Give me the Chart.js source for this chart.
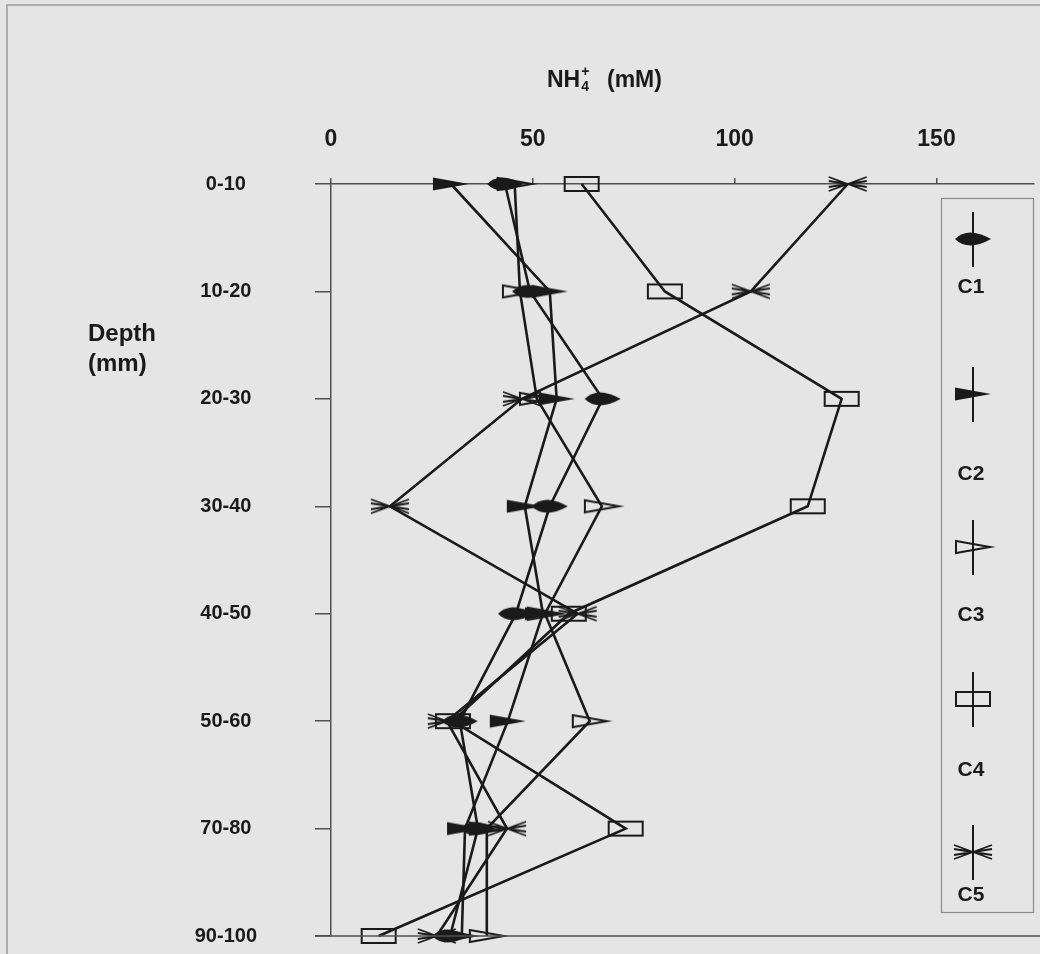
<!DOCTYPE html>
<html>
<head>
<meta charset="utf-8">
<script src="https://cdn.jsdelivr.net/npm/chart.js@4.4.1/dist/chart.umd.min.js"></script>
<style>
  html, body { margin: 0; padding: 0; background: #e5e5e5; }
  #c { display: block; }
</style>
</head>
<body>
<canvas id="c" width="1040" height="954"></canvas>
<script>
// Depth intervals (rows, top to bottom) and NH4+ concentrations (mM) per core
const depthLabels = ['0-10', '10-20', '20-30', '30-40', '40-50', '50-60', '70-80', '90-100'];
const coreNames = ['C1', 'C2', 'C3', 'C4', 'C5'];
const c1 = [43.1, 49.3, 67.3, 54.2, 45.8, 31.9, 36.4, 29.5];
const c2 = [29.7, 54.2, 55.9, 48.0, 52.5, 43.8, 33.2, 32.4];
const c3 = [45.5, 46.8, 51.0, 67.1, 53.0, 64.1, 38.6, 38.6];
const c4 = [62.1, 82.7, 126.5, 118.1, 58.9, 30.2, 73.0, 11.8];
const c5 = [128.0, 104.0, 47.3, 14.6, 61.1, 28.7, 43.6, 26.2];
const xTicks = [0, 50, 100, 150];

const FONT = '"Liberation Sans", Arial, Helvetica, sans-serif';
const INK = '#1a1a1a';
const AXIS = '#505050';
const BG = '#e5e5e5';

// Marker glyphs drawn onto small canvases, used as point styles
function makeMarker(kind) {
  const cv = document.createElement('canvas');
  cv.width = 46;
  cv.height = 22;
  const g = cv.getContext('2d');
  g.translate(cv.width / 2, cv.height / 2);
  g.strokeStyle = INK;
  g.fillStyle = INK;
  g.lineWidth = 2;
  g.lineJoin = 'miter';
  g.beginPath();
  if (kind === 'leaf') {
    g.moveTo(-18, 0);
    g.quadraticCurveTo(-5, -13, 18, 0);
    g.quadraticCurveTo(-5, 13, -18, 0);
    g.closePath();
    g.fill();
  } else if (kind === 'wedge') {
    g.moveTo(-18, -6.5);
    g.lineTo(18, 0);
    g.lineTo(-18, 6.5);
    g.closePath();
    g.fill();
  } else if (kind === 'openWedge') {
    g.moveTo(-17, -6);
    g.lineTo(17, 0);
    g.lineTo(-17, 6);
    g.closePath();
    g.stroke();
  } else if (kind === 'box') {
    g.rect(-17, -7, 34, 14);
    g.stroke();
  } else if (kind === 'star') {
    g.lineWidth = 1.8;
    [[-19, -7], [-19, -3], [-19, 3], [-19, 7], [19, -7], [19, -3], [19, 3], [19, 7]].forEach(p => {
      g.moveTo(0, 0);
      g.lineTo(p[0], p[1]);
    });
    g.stroke();
  }
  return cv;
}

const markerKinds = ['leaf', 'wedge', 'openWedge', 'box', 'star'];
const seriesValues = [c1, c2, c3, c4, c5];

const datasets = coreNames.map((name, i) => ({
  label: name,
  data: seriesValues[i],
  borderColor: INK,
  backgroundColor: INK,
  borderWidth: 2.6,
  tension: 0,
  fill: false,
  clip: false,
  pointStyle: makeMarker(markerKinds[i])
}));

const decorations = {
  id: 'decorations',
  beforeDraw(chart) {
    const ctx = chart.ctx;
    ctx.save();
    ctx.fillStyle = BG;
    ctx.fillRect(0, 0, chart.width, chart.height);
    ctx.strokeStyle = '#9a9a9a';
    ctx.lineWidth = 1.5;
    ctx.strokeRect(7, 5, chart.width + 10, chart.height + 10);
    ctx.restore();
  },
  afterDraw(chart) {
    const ctx = chart.ctx;
    const a = chart.chartArea;
    ctx.save();

    // bottom frame line of the plot
    ctx.strokeStyle = AXIS;
    ctx.lineWidth = 1.5;
    ctx.beginPath();
    ctx.moveTo(a.left - 16, a.bottom);
    ctx.lineTo(chart.width, a.bottom);
    ctx.stroke();

    // axis title: NH4+ (mM)
    ctx.fillStyle = INK;
    ctx.textBaseline = 'alphabetic';
    ctx.textAlign = 'left';
    const tx = a.left + 216, ty = a.top - 97;
    ctx.font = 'bold 23px ' + FONT;
    ctx.fillText('NH', tx, ty);
    const w = ctx.measureText('NH').width;
    ctx.font = 'bold 14px ' + FONT;
    ctx.fillText('4', tx + w + 1, ty + 4);
    ctx.fillText('+', tx + w + 1, ty - 11);
    ctx.font = 'bold 23px ' + FONT;
    ctx.fillText('(mM)', tx + 60, ty);

    // depth axis title
    ctx.font = 'bold 24px ' + FONT;
    ctx.textBaseline = 'middle';
    ctx.fillText('Depth', 88, 334);
    ctx.fillText('(mm)', 88, 364);

    // legend box
    const lx = 941, ly = 198, lw = 92, lh = 714;
    ctx.strokeStyle = '#8a8a8a';
    ctx.lineWidth = 1.2;
    ctx.strokeRect(lx + 0.5, ly + 0.5, lw, lh);
    const markY = [239, 394, 547, 699, 852];
    const textY = [287, 474, 615, 770, 895];
    chart.data.datasets.forEach((ds, i) => {
      const cx = 973, cy = markY[i];
      ctx.strokeStyle = INK;
      ctx.lineWidth = 2;
      ctx.beginPath();
      ctx.moveTo(cx, cy - 27);
      ctx.lineTo(cx, cy + 28);
      ctx.stroke();
      const m = ds.pointStyle;
      ctx.drawImage(m, cx - m.width / 2, cy - m.height / 2);
      ctx.fillStyle = INK;
      ctx.font = 'bold 21px ' + FONT;
      ctx.textAlign = 'center';
      ctx.textBaseline = 'middle';
      ctx.fillText(ds.label, cx - 2, textY[i]);
    });
    ctx.restore();
  }
};

new Chart(document.getElementById('c'), {
  type: 'line',
  data: { labels: depthLabels, datasets },
  options: {
    indexAxis: 'y',
    responsive: false,
    animation: false,
    events: [],
    layout: { padding: { top: 0, left: 0, right: 0, bottom: 18 } },
    plugins: { legend: { display: false }, tooltip: { enabled: false } },
    scales: {
      x: {
        type: 'linear',
        position: 'top',
        min: 0,
        max: 174,
        afterBuildTicks: s => { s.ticks = xTicks.map(v => ({ value: v })); },
        afterFit: s => { s.height = 184; s.paddingLeft = 0; s.paddingRight = 0; },
        grid: { drawOnChartArea: false, drawTicks: true, tickLength: 6, color: AXIS, lineWidth: 1.5 },
        border: { color: AXIS, width: 1.5 },
        ticks: { color: INK, padding: 25, font: { family: FONT, size: 23, weight: 'bold' } }
      },
      y: {
        type: 'category',
        offset: false,
        afterFit: s => { s.width = 331; s.paddingTop = 0; s.paddingBottom = 0; },
        grid: { drawOnChartArea: false, drawTicks: true, tickLength: 16, color: AXIS, lineWidth: 1.5 },
        border: { color: AXIS, width: 1.5 },
        ticks: { color: INK, crossAlign: 'center', padding: 58, font: { family: FONT, size: 20, weight: 'bold' } }
      }
    }
  },
  plugins: [decorations]
});
</script>
</body>
</html>
